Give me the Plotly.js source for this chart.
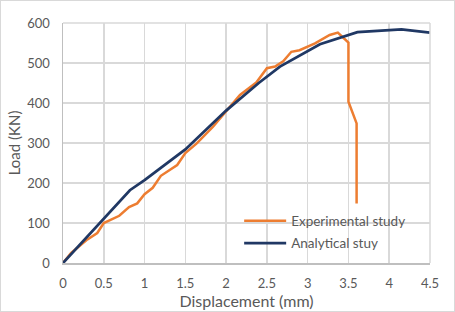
<!DOCTYPE html>
<html>
<head>
<meta charset="utf-8">
<script src="https://cdn.plot.ly/plotly-3.0.1.min.js"></script>
<style>
  html, body { margin: 0; padding: 0; background: #fff; }
  #wrap { position: relative; width: 455px; height: 312px; }
  #chart { width: 455px; height: 312px; }
  #frame { position: absolute; left: 0; top: 0; width: 453px; height: 310px;
           border: 1px solid #d9d9d9; pointer-events: none; }
</style>
</head>
<body>
<div id="wrap">
  <div id="chart"></div>
  <div id="frame"></div>
</div>
<script>
// Experimental load–displacement record
const expDisp = [0, 0.1, 0.3, 0.42, 0.5, 0.58, 0.69, 0.81, 0.91, 1.0, 1.1, 1.2, 1.4, 1.5,
                 1.64, 1.84, 2.0, 2.17, 2.37, 2.5, 2.6, 2.7, 2.8, 2.9, 3.09, 3.27, 3.37,
                 3.5, 3.5, 3.6, 3.6];
const expLoad = [0, 25, 59, 75, 100, 108, 118, 140, 149, 172, 188, 218, 245, 275,
                 299, 341, 380, 420, 451, 487, 491, 504, 528, 532, 549, 570, 576,
                 551, 403, 349, 149];

// Analytical prediction
const anaDisp = [0, 0.5, 0.82, 1.0, 1.5, 2.0, 2.4, 2.66, 3.15, 3.61, 4.15, 4.5];
const anaLoad = [0, 112, 182, 207, 284, 381, 450, 491, 547, 577, 584, 576];

const xTicks = [0, 0.5, 1, 1.5, 2, 2.5, 3, 3.5, 4, 4.5];
const xTickText = ['0', '0.5', '1', '1.5', '2', '2.5', '3', '3.5', '4', '4.5'];
const yTicks = [0, 100, 200, 300, 400, 500, 600];

const seriesNames = ['Experimental study', 'Analytical stuy'];

const font = 'Lato, "Liberation Sans", sans-serif';
const textGrey = '#595959';
const gridGrey = '#d9d9d9';
const axisGrey = '#bfbfbf';

const traces = [
  { x: expDisp, y: expLoad, name: seriesNames[0], mode: 'lines', legendgroup: 'a',
    line: { color: '#ED7D31', width: 2.5 } },
  { x: anaDisp, y: anaLoad, name: seriesNames[1], mode: 'lines', legendgroup: 'b',
    line: { color: '#203864', width: 2.75 } }
];

const layout = {
  width: 455, height: 312,
  margin: { l: 63, r: 25, t: 23, b: 49 },
  paper_bgcolor: '#fff', plot_bgcolor: '#fff',
  font: { family: font, color: textGrey, size: 12 },
  showlegend: true,
  legend: {
    x: 0.48, y: 0.24, xanchor: 'left', yanchor: 'top',
    bgcolor: 'rgba(0,0,0,0)', font: { family: font, size: 13.5, color: textGrey },
    tracegroupgap: 2, itemwidth: 42
  },
  xaxis: {
    range: [0, 4.5], tickvals: xTicks, ticktext: xTickText,
    showgrid: true, gridcolor: gridGrey, gridwidth: 1.5,
    zeroline: false, showline: true, linecolor: axisGrey, linewidth: 1.5,
    ticks: '', ticklabelstandoff: 8,
    tickfont: { family: font, size: 13, color: textGrey },
    title: { text: 'Displacement (mm)', font: { family: font, size: 16, color: textGrey }, standoff: 0 }
  },
  yaxis: {
    range: [0, 600], tickvals: yTicks,
    showgrid: true, gridcolor: gridGrey, gridwidth: 1.5,
    zeroline: false, showline: true, linecolor: axisGrey, linewidth: 1.5,
    ticks: '', ticklabelstandoff: 9,
    tickfont: { family: font, size: 13, color: textGrey },
    title: { text: 'Load (KN)', font: { family: font, size: 15, color: textGrey }, standoff: 3 }
  },
  shapes: [
    { type: 'line', xref: 'paper', yref: 'paper', x0: 1, x1: 1, y0: 0, y1: 1,
      line: { color: gridGrey, width: 1.5 } },
    { type: 'line', xref: 'paper', yref: 'paper', x0: 0, x1: 1, y0: 1, y1: 1,
      line: { color: gridGrey, width: 1.5 } }
  ]
};

Plotly.newPlot('chart', traces, layout, { staticPlot: true, displayModeBar: false });
</script>
</body>
</html>
